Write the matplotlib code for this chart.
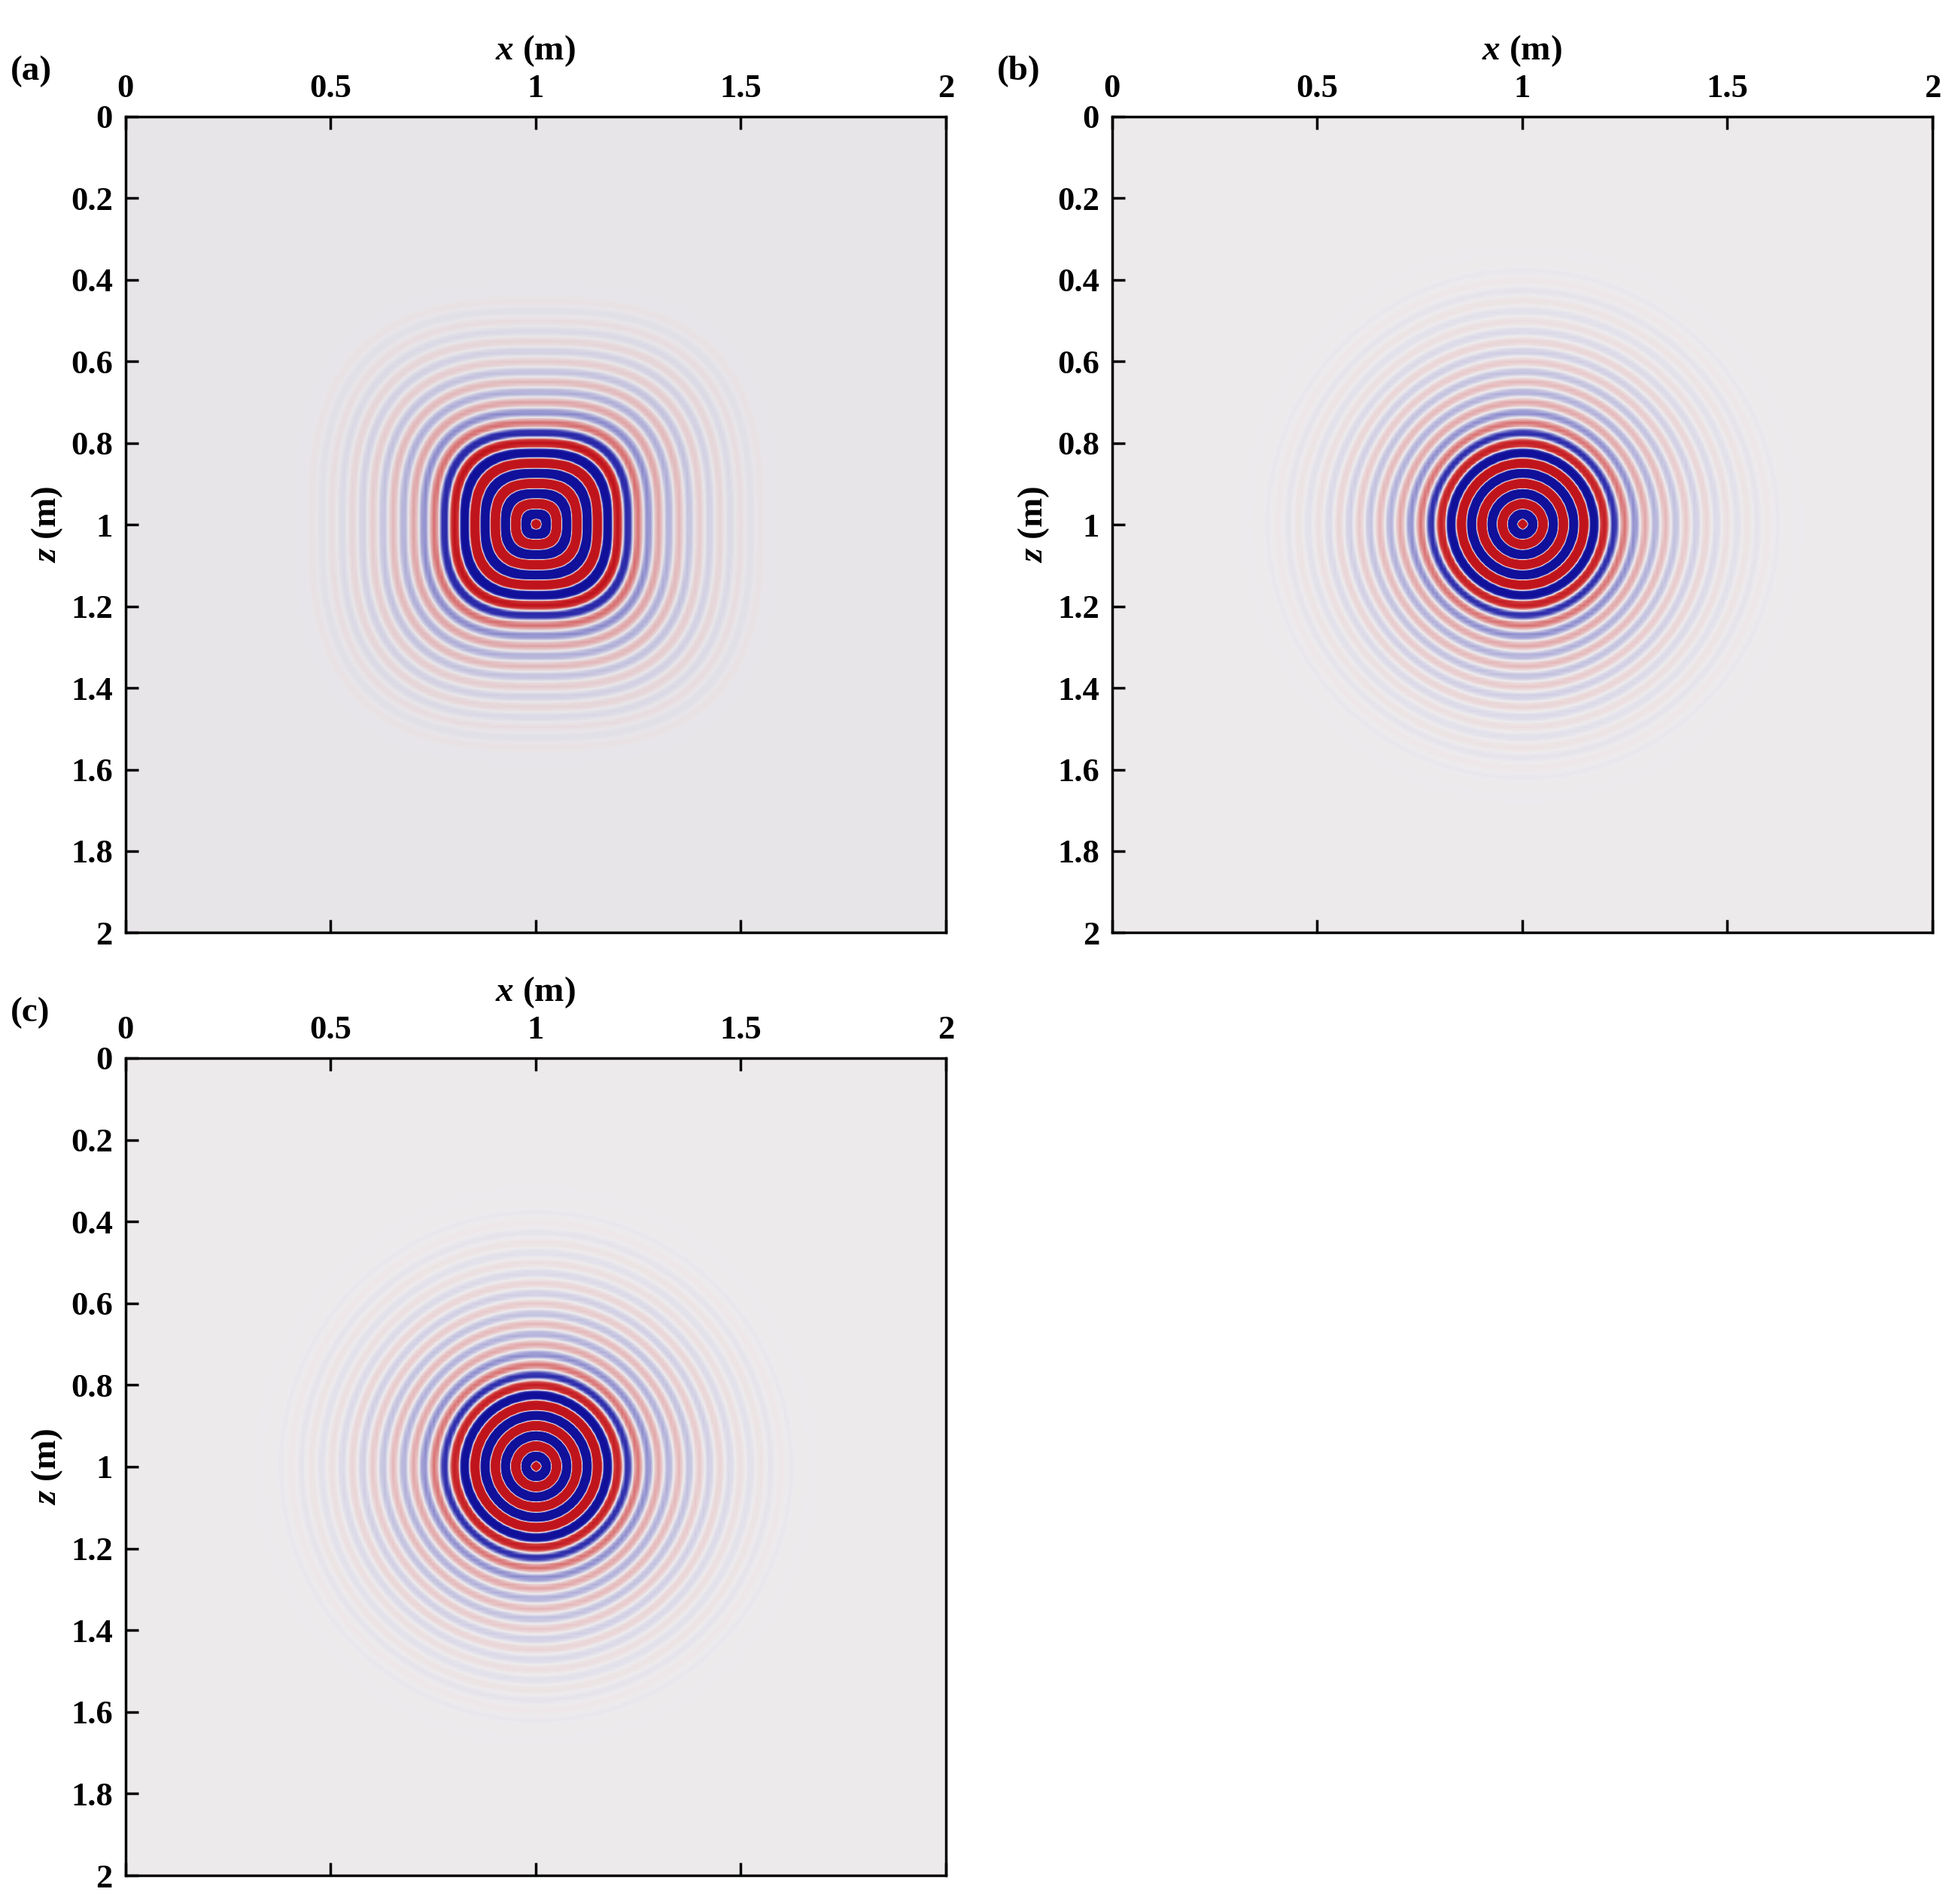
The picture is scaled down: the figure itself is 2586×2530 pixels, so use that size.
import numpy as np
import matplotlib
matplotlib.use("Agg")
import matplotlib.pyplot as plt
from matplotlib.colors import LinearSegmentedColormap

# grid / wave parameters
x_m = np.linspace(0, 2, 201)
z_m = np.linspace(0, 2, 201)
wavelength = 0.05
# amplitude envelope vs radius for each panel
env_r = [0.0, 0.1, 0.15, 0.2, 0.25, 0.3, 0.4, 0.5, 0.6, 0.7]
env_a = {"a": [4.0, 3.0, 2.5, 1.1, 0.35, 0.2, 0.08, 0.03, 0.0, 0.0],
         "b": [4.0, 3.0, 2.5, 0.9, 0.35, 0.2, 0.1, 0.04, 0.015, 0.0],
         "c": [4.0, 3.0, 2.5, 0.9, 0.35, 0.2, 0.1, 0.04, 0.015, 0.0]}
shape_p = {"a": 2.8, "b": 2.0, "c": 2.0}
bg = {"a": "#e9e7ea", "b": "#eeecee", "c": "#eeecee"}
labels = ["(a)", "(b)", "(c)"]
ticks_x = [0, 0.5, 1, 1.5, 2]
ticks_z = [0, 0.2, 0.4, 0.6, 0.8, 1, 1.2, 1.4, 1.6, 1.8, 2]

plt.rcParams['font.family'] = ['Liberation Serif', 'DejaVu Serif']
plt.rcParams['font.weight'] = 'bold'
plt.rcParams['mathtext.fontset'] = 'custom'
plt.rcParams['mathtext.it'] = 'Liberation Serif:italic:bold'
plt.rcParams['mathtext.rm'] = 'Liberation Serif:bold'

fig = plt.figure(figsize=(25.86, 25.30), dpi=100)
pos = {"a": [0.0644, 0.5101, 0.4216, 0.4287],
       "b": [0.5714, 0.5101, 0.4216, 0.4287],
       "c": [0.0644, 0.0150, 0.4216, 0.4293]}

X, Z = np.meshgrid(x_m, z_m)
for key, lab in zip(["a", "b", "c"], labels):
    p = shape_p[key]
    r = (np.abs(X - 1) ** p + np.abs(Z - 1) ** p) ** (1 / p)
    field = np.interp(r, env_r, env_a[key]) * np.cos(2 * np.pi * r / wavelength)
    cmap = LinearSegmentedColormap.from_list(
        "bwr_" + key, ["#10109a", "#3535b0", bg[key], "#d03a3a", "#c0141c"])
    ax = fig.add_axes(pos[key])
    ax.imshow(field, extent=[0, 2, 2, 0], cmap=cmap, vmin=-1, vmax=1,
              interpolation="bilinear", aspect="auto")
    ax.set_xlim(0, 2); ax.set_ylim(2, 0)
    ax.xaxis.tick_top(); ax.xaxis.set_label_position("top")
    ax.set_xticks(ticks_x); ax.set_xticklabels(["0", "0.5", "1", "1.5", "2"])
    ax.set_yticks(ticks_z); ax.set_yticklabels(["0", "0.2", "0.4", "0.6", "0.8", "1", "1.2", "1.4", "1.6", "1.8", "2"])
    ax.tick_params(direction="in", length=12, width=2.5, labelsize=32, pad=12,
                   top=True, bottom=True, left=True, right=False)
    for s in ax.spines.values():
        s.set_linewidth(2.5)
    ax.set_xlabel(r"$x$ (m)", fontsize=34, fontweight="bold", labelpad=14)
    ax.set_ylabel(r"$z$ (m)", fontsize=34, fontweight="bold", labelpad=6)
    ax.text(-0.14, 1.045, lab, transform=ax.transAxes, fontsize=34, fontweight="bold")

fig.savefig("out.png", dpi=100)
